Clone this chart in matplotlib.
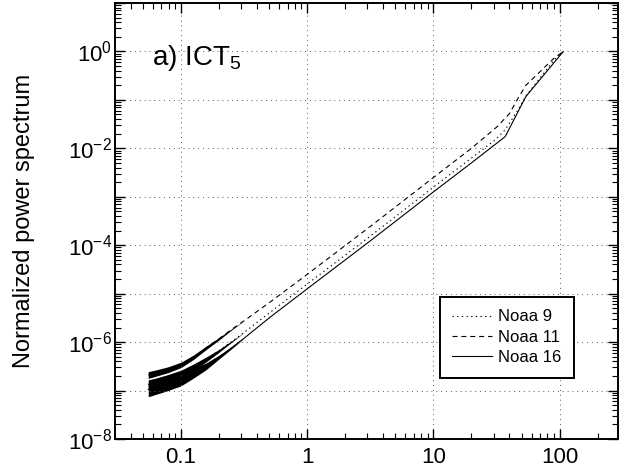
import numpy as np
import matplotlib
matplotlib.use("Agg")
import matplotlib.pyplot as plt
from matplotlib.ticker import LogLocator, FuncFormatter, NullFormatter

plt.rcParams['font.family'] = ['Liberation Sans', 'DejaVu Sans']
plt.rcParams['mathtext.fontset'] = 'custom'
plt.rcParams['mathtext.rm'] = 'Liberation Sans'
plt.rcParams['mathtext.it'] = 'Liberation Sans:italic'
plt.rcParams['mathtext.bf'] = 'Liberation Sans:bold'

# frequencies and normalized power spectra
freq_low = [0.055, 0.063, 0.079, 0.1, 0.126, 0.158, 0.2, 0.251, 0.316, 0.5, 1, 3.2, 10, 20]

freq_noaa9 = freq_low + [31, 37, 47, 54, 91, 107]
pow_noaa9 = [1.32e-7, 1.45e-7, 1.74e-7, 2.19e-7, 3.02e-7, 4.37e-7, 6.6e-7, 1.02e-6,
             1.58e-6, 3.98e-6, 1.58e-5, 1.58e-4, 1.58e-3, 6.3e-3,
             1.51e-2, 2.4e-2, 6.3e-2, 0.12, 0.68, 1.0]

freq_noaa11 = freq_low + [32, 40, 47, 54, 91, 107]
pow_noaa11 = [2.09e-7, 2.29e-7, 2.69e-7, 3.39e-7, 4.9e-7, 7.6e-7, 1.17e-6, 1.82e-6,
              2.75e-6, 6.5e-6, 2.5e-5, 2.5e-4, 2.5e-3, 1.0e-2,
              2.8e-2, 5.2e-2, 0.11, 0.2, 0.74, 1.0]

freq_noaa16 = freq_low + [37, 54, 107]
pow_noaa16 = [1.05e-7, 1.15e-7, 1.35e-7, 1.65e-7, 2.29e-7, 3.16e-7, 4.9e-7, 7.6e-7,
              1.2e-6, 3.16e-6, 1.26e-5, 1.26e-4, 1.26e-3, 5.0e-3,
              1.74e-2, 0.117, 1.0]

# scatter of the noisy low-frequency end (half width in decades, first points)
spread_noaa9 = [0.10, 0.095, 0.09, 0.08, 0.07, 0.05, 0.03, 0.015, 0.0]
spread_noaa11 = [0.07, 0.065, 0.06, 0.055, 0.045, 0.035, 0.025, 0.012, 0.0]
spread_noaa16 = [0.15, 0.14, 0.13, 0.12, 0.10, 0.07, 0.04, 0.02, 0.0]

labels = ["Noaa 9", "Noaa 11", "Noaa 16"]

fig = plt.figure(figsize=(6.23, 4.73), dpi=100)
ax = fig.add_axes([0.1846, 0.0719, 0.8074, 0.9218])

series = [
    (freq_noaa9, pow_noaa9, spread_noaa9, (0, (1.2, 3.0))),
    (freq_noaa11, pow_noaa11, spread_noaa11, (0, (4.5, 3.5))),
    (freq_noaa16, pow_noaa16, spread_noaa16, '-'),
]
for (f, p, s, ls), lab in zip(series, labels):
    ax.plot(f, p, color='k', lw=0.8, linestyle=ls, label=lab)
    n = len(s)
    f0 = np.array(f[:n])
    p0 = np.array(p[:n])
    s0 = np.array(s)
    ax.fill_between(f0, p0 / 10 ** s0, p0 * 10 ** s0, color='k', lw=0)

ax.set_xscale('log')
ax.set_yscale('log')
ax.set_xlim(0.03, 290)
ax.set_ylim(1e-8, 10)

ax.xaxis.set_major_locator(LogLocator(base=10, numticks=20))
ax.xaxis.set_minor_locator(LogLocator(base=10, subs=np.arange(2, 10), numticks=20))
ax.xaxis.set_major_formatter(FuncFormatter(lambda v, pos: '%g' % v))
ax.xaxis.set_minor_formatter(NullFormatter())

ax.yaxis.set_major_locator(LogLocator(base=10, numticks=20))
ax.yaxis.set_minor_locator(LogLocator(base=10, subs=np.arange(2, 10), numticks=20))


def ylab(v, pos):
    e = int(round(np.log10(v)))
    if e % 2 == 0:
        return r'$10^{%d}$' % e
    return ''


ax.yaxis.set_major_formatter(FuncFormatter(ylab))
ax.yaxis.set_minor_formatter(NullFormatter())

ax.tick_params(which='both', direction='in', top=True, right=True, labelsize=16)
ax.tick_params(which='major', length=7, width=1.0)
ax.tick_params(which='minor', length=4, width=0.8)
ax.tick_params(axis='y', pad=2)
ax.tick_params(axis='x', pad=6)
for sp in ax.spines.values():
    sp.set_linewidth(1.4)

ax.grid(True, which='major', color='0.35', linestyle=(0, (1, 4)), linewidth=0.7)

ax.set_ylabel('Normalized power spectrum', fontsize=17)
ax.yaxis.set_label_coords(-0.16, 0.5)
ax.text(0.074, 0.858, r'a) ICT$_5$', transform=ax.transAxes, fontsize=20,
        va='baseline', ha='left')

leg = ax.legend(loc='upper left', bbox_to_anchor=(0.646, 0.326), fontsize=12,
                fancybox=False, framealpha=1, edgecolor='k', handlelength=2.4,
                handletextpad=0.35, borderpad=0.75, labelspacing=0.32,
                borderaxespad=0)
leg.get_frame().set_linewidth(1.4)

fig.savefig('out.png', dpi=100)
